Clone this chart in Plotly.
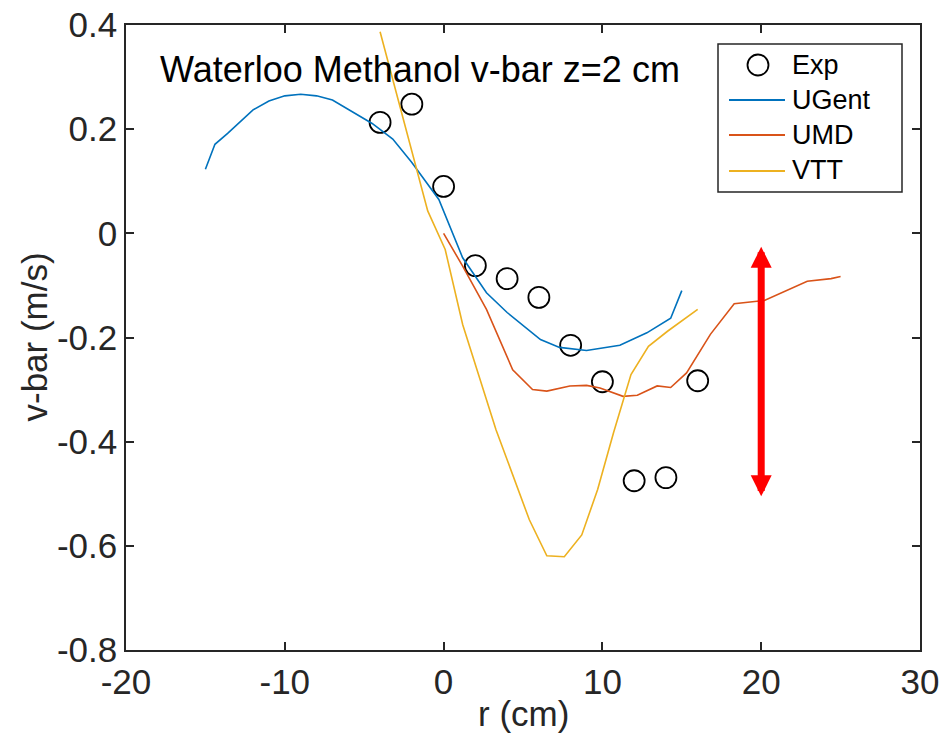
import plotly.graph_objects as go

# Measured mean radial velocity, Waterloo methanol pool fire, z = 2 cm
exp_r = [-4, -2, 0, 2, 4, 6, 8, 10, 12, 14, 16]
exp_v = [0.213, 0.248, 0.090, -0.062, -0.087, -0.123, -0.215, -0.285, -0.475, -0.469, -0.283]

# Model predictions
ugent_r = [-15, -14.4, -13.6, -12, -11, -10, -9, -8, -7, -5.8, -4.5, -3.2, -2, -0.3,
           1.2, 2.7, 4, 6.1, 7.3, 9, 11.1, 12.8, 14.3, 15]
ugent_v = [0.123, 0.171, 0.192, 0.237, 0.254, 0.264, 0.267, 0.264, 0.256, 0.235, 0.211,
           0.181, 0.136, 0.065, -0.047, -0.114, -0.152, -0.204, -0.219, -0.225, -0.215,
           -0.191, -0.163, -0.110]

umd_r = [0, 1.2, 2.7, 4.35, 5.6, 6.5, 7.95, 9.0, 9.85, 11.3, 12.2, 13.45, 14.3, 15.3,
         16.8, 18.3, 20.2, 22.9, 24.4, 25]
umd_v = [0.0, -0.063, -0.146, -0.262, -0.300, -0.303, -0.293, -0.292, -0.297, -0.313,
         -0.311, -0.293, -0.296, -0.268, -0.194, -0.135, -0.129, -0.092, -0.087, -0.083]

vtt_r = [-4.0, -1.0, 0.1, 1.2, 3.3, 5.4, 6.5, 7.6, 8.7, 9.7, 10.7, 11.8, 12.9, 14.1, 16]
vtt_v = [0.387, 0.043, -0.031, -0.175, -0.377, -0.550, -0.619, -0.621, -0.579, -0.492,
         -0.383, -0.271, -0.217, -0.188, -0.146]

# Uncertainty marker (double-headed arrow)
arrow_r = 20
arrow_top = -0.023
arrow_bottom = -0.505

x_ticks = [-20, -10, 0, 10, 20, 30]
x_ticktext = ["-20", "-10", "0", "10", "20", "30"]
y_ticks = [-0.8, -0.6, -0.4, -0.2, 0, 0.2, 0.4]
y_ticktext = ["-0.8", "-0.6", "-0.4", "-0.2", "0", "0.2", "0.4"]

series_names = ["Exp", "UGent", "UMD", "VTT"]
series_colors = ["black", "#0072BD", "#D95319", "#EDB120"]

FONT = "Liberation Sans, Arial, Helvetica, sans-serif"
AXC = "#262626"

W, H = 944, 735
ML, MR, MT, MB = 126, 24, 25, 85
PW, PH = W - ML - MR, H - MT - MB


def px_x(px):
    """Pixel column -> paper x."""
    return (px - ML) / PW


def px_y(py):
    """Pixel row -> paper y."""
    return (H - MB - py) / PH


fig = go.Figure()
fig.add_trace(go.Scatter(
    x=exp_r, y=exp_v, mode="markers", name=series_names[0], showlegend=False,
    marker=dict(symbol="circle-open", size=21, color="black", line=dict(width=1.8, color="black")),
))
for name, color, rr, vv in zip(series_names[1:], series_colors[1:],
                               [ugent_r, umd_r, vtt_r], [ugent_v, umd_v, vtt_v]):
    fig.add_trace(go.Scatter(x=rr, y=vv, mode="lines", name=name, showlegend=False,
                             line=dict(color=color, width=1.6)))

fig.add_annotation(
    x=arrow_r, y=arrow_bottom, ax=arrow_r, ay=arrow_top,
    xref="x", yref="y", axref="x", ayref="y", text="",
    showarrow=True, arrowside="end+start",
    arrowhead=2, startarrowhead=2, arrowsize=0.6, startarrowsize=0.6,
    arrowwidth=7, arrowcolor="#FF0000",
)

fig.add_annotation(
    text="Waterloo Methanol v-bar z=2 cm", xref="paper", yref="paper",
    x=px_x(158), y=px_y(70), xanchor="left", yanchor="middle", showarrow=False,
    font=dict(family=FONT, size=36, color="black"),
)

# Axis titles
fig.add_annotation(text="r (cm)", xref="paper", yref="paper",
                   x=0.5, y=px_y(713), xanchor="center", yanchor="middle", showarrow=False,
                   font=dict(family=FONT, size=35, color=AXC))
fig.add_annotation(text="v-bar (m/s)", xref="paper", yref="paper",
                   x=px_x(34), y=0.5, xanchor="center", yanchor="middle", showarrow=False,
                   textangle=-90, font=dict(family=FONT, size=35, color=AXC))

# Legend box drawn by hand
fig.add_shape(type="rect", xref="paper", yref="paper",
              x0=px_x(718), x1=px_x(902), y0=px_y(192), y1=px_y(44),
              line=dict(color=AXC, width=1.5), fillcolor="white", layer="above")
legend_rows = [65, 100, 135, 171]
for i, (color, row) in enumerate(zip(series_colors, legend_rows)):
    if i == 0:
        fig.add_shape(type="circle", xref="paper", yref="paper",
                      xsizemode="pixel", ysizemode="pixel",
                      xanchor=px_x(758), yanchor=px_y(row),
                      x0=-10.5, x1=10.5, y0=-10.5, y1=10.5,
                      line=dict(color="black", width=1.8))
    else:
        fig.add_shape(type="line", xref="paper", yref="paper",
                      x0=px_x(729), x1=px_x(785), y0=px_y(row), y1=px_y(row),
                      line=dict(color=color, width=1.8))
fig.add_annotation(text="<br>".join(series_names), xref="paper", yref="paper",
                   x=px_x(790), y=px_y((legend_rows[0] + legend_rows[-1]) / 2 - 1),
                   xanchor="left", yanchor="middle", align="left",
                   showarrow=False, font=dict(family=FONT, size=27, color="black"))

axis_common = dict(
    showgrid=False, zeroline=False, showline=True, linecolor=AXC, linewidth=1.5,
    mirror="allticks", ticks="inside", ticklen=8, tickwidth=1.5, tickcolor=AXC,
    tickfont=dict(family=FONT, size=35, color=AXC), automargin=False,
)

fig.update_xaxes(range=[-20, 30], tickvals=x_ticks, ticktext=x_ticktext, **axis_common)
fig.update_yaxes(range=[-0.8, 0.4], tickvals=y_ticks, ticktext=y_ticktext, **axis_common)

fig.update_layout(
    width=W, height=H,
    margin=dict(l=ML, r=MR, t=MT, b=MB),
    paper_bgcolor="white", plot_bgcolor="white",
    font=dict(family=FONT, color=AXC),
    showlegend=False,
)

fig.write_html("out.html")
